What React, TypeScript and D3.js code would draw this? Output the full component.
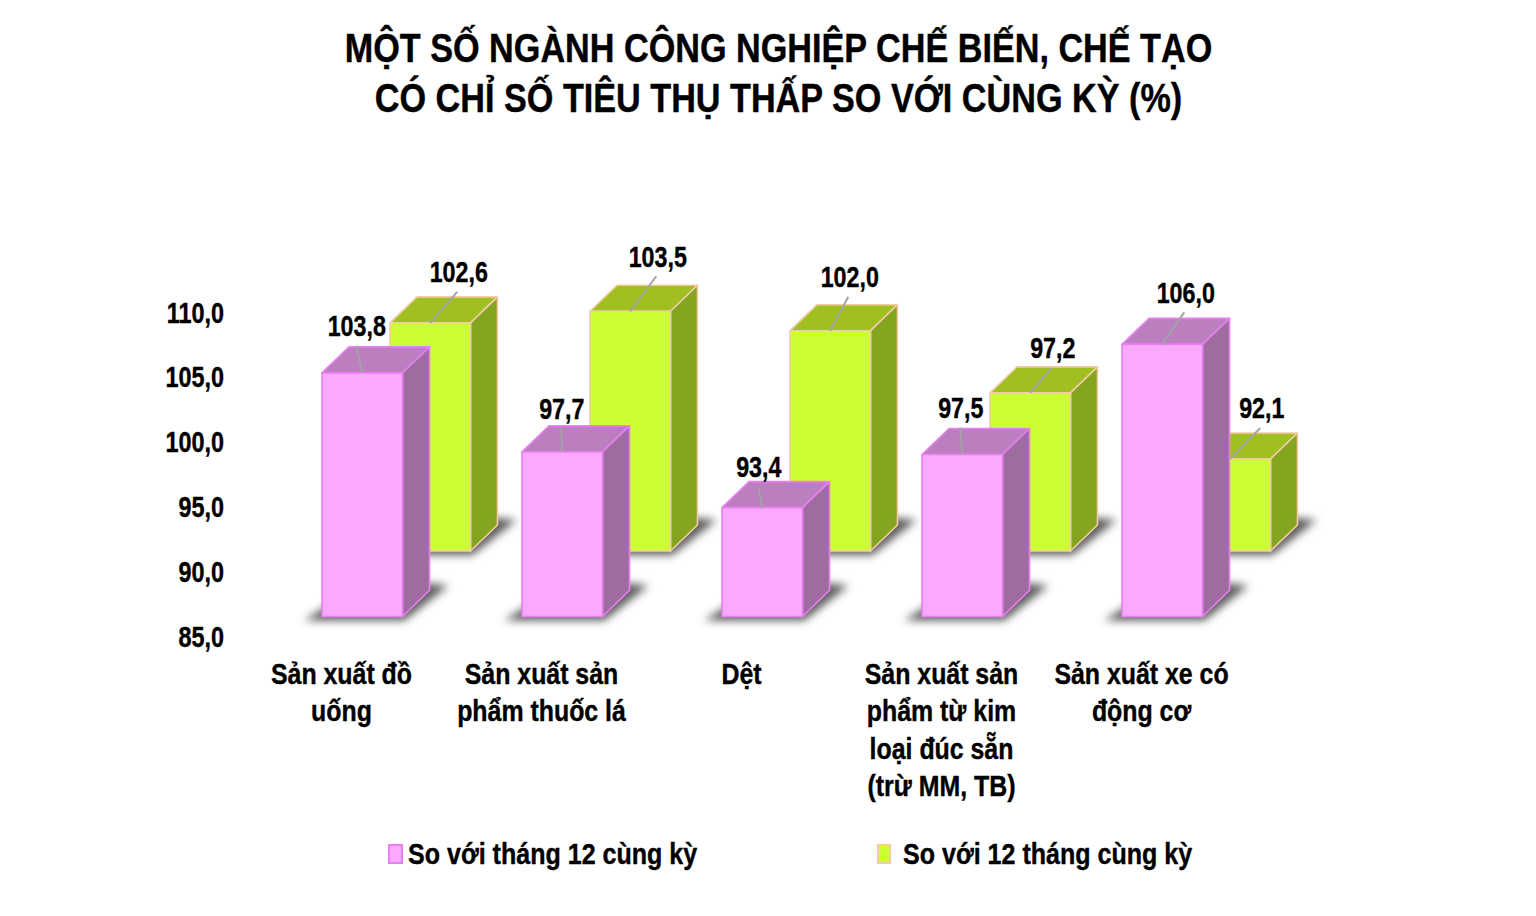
import React from "react";
import * as d3 from "d3";

const categories = [
  ["Sản xuất đồ", "uống"],
  ["Sản xuất sản", "phẩm thuốc lá"],
  ["Dệt"],
  ["Sản xuất sản", "phẩm từ kim", "loại đúc sẵn", "(trừ MM, TB)"],
  ["Sản xuất xe có", "động cơ"],
];
const monthValues = [103.8, 97.7, 93.4, 97.5, 106.0];
const yearValues = [102.6, 103.5, 102.0, 97.2, 92.1];
const yTicks = [85, 90, 95, 100, 105, 110];
const seriesNames = ["So với tháng 12 cùng kỳ", "So với 12 tháng cùng kỳ"];
const titleLines = [
  "MỘT SỐ NGÀNH CÔNG NGHIỆP CHẾ BIẾN, CHẾ TẠO",
  "CÓ CHỈ SỐ TIÊU THỤ THẤP SO VỚI CÙNG KỲ (%)",
];

// label offsets from the top of each bar's front face
const monthLabelOffset = [[-6, -46], [-1, -42], [-4, -40], [-2, -46], [23, -51]];
const yearLabelOffset = [[28, -50], [27, -54], [19, -53], [22, -44], [31, -50]];

const FONT = "'Liberation Sans', Arial, sans-serif";
const BAR_W = 80.5;
const DEPTH_X = 27;
const DEPTH_Y = 26;

const pink = { front: "#fba9ff", top: "#bb7fbf", side: "#9f6c9f", stroke: "#e77ff0" };
const green = { front: "#ccff33", top: "#9fc020", side: "#84a520", stroke: "#f3cba6" };

const y = d3.scaleLinear().domain([85, 110]).range([636, 312]);
const x = d3
  .scaleBand<number>()
  .domain(d3.range(categories.length))
  .range([242, 1242]);
const num = d3.formatLocale({
  decimal: ",",
  thousands: ".",
  grouping: [3],
  currency: ["", ""],
}).format(".1f");

const line = d3.line();
const poly = (pts: [number, number][]) => line(pts) + "Z";

// text is squeezed horizontally to imitate Arial Narrow Bold
const Narrow = ({ x, y, size, sx = 0.85, anchor = "middle", children }: any) => (
  <text
    transform={`translate(${x},${y}) scale(${sx},1)`}
    textAnchor={anchor}
    fontFamily={FONT}
    fontWeight="bold"
    fontSize={size}
    fill="#000"
    stroke="#000"
    strokeWidth={0.4}
  >
    {children}
  </text>
);

const Bar = ({ left, value, lift, c }: any) => {
  const base = y(85) - lift;
  const top = y(value) - lift;
  const r = left + BAR_W;
  return (
    <g>
      <path
        d={poly([
          [left - 18, base + 4],
          [r + 2, base + 4],
          [r + 46, base - 31],
          [r + 5, base - 35],
          [left + 20, base - 20],
        ])}
        fill="#5c5c5c"
        filter="url(#soft)"
      />
      <g stroke={c.stroke} strokeWidth={1.6} strokeLinejoin="round">
        <path
          d={poly([
            [left, top],
            [left + DEPTH_X, top - DEPTH_Y],
            [r + DEPTH_X, top - DEPTH_Y],
            [r, top],
          ])}
          fill={c.top}
        />
        <path
          d={poly([
            [r, top],
            [r + DEPTH_X, top - DEPTH_Y],
            [r + DEPTH_X, base - DEPTH_Y],
            [r, base],
          ])}
          fill={c.side}
        />
        <rect x={left} y={top} width={BAR_W} height={base - top} fill={c.front} />
      </g>
    </g>
  );
};

const Leader = ({ left, value, lift, offset }: any) => {
  const top = y(value) - lift;
  const cx = left + BAR_W / 2;
  const lx = cx + offset[0];
  const ly = top + offset[1];
  return (
    <g>
      <line
        x1={cx}
        y1={top}
        x2={lx + (offset[0] > 10 ? -1 : 0)}
        y2={ly + 19}
        stroke="#a3a3a3"
        strokeWidth={2}
      />
      <Narrow x={lx + 0.5} y={ly + 9.5} size={30} sx={0.775}>
        {num(value)}
      </Narrow>
    </g>
  );
};

export default function App() {
  const monthX = (i: number) => x(i)! + 80;
  const yearX = (i: number) => x(i)! + 148;
  return (
    <svg
      width={1536}
      height={916}
      style={{ position: "absolute", left: 0, top: 0, background: "#fff" }}
    >
      <defs>
        <filter id="soft" x="-30%" y="-60%" width="160%" height="220%">
          <feGaussianBlur stdDeviation={4.5} />
        </filter>
      </defs>

      {titleLines.map((t, i) => (
        <Narrow key={t} x={778.5} y={62 + i * 50} size={40} sx={0.855}>
          {t}
        </Narrow>
      ))}

      {yTicks.map((t) => (
        <Narrow key={t} x={224} y={y(t) + 10.5} size={30} sx={0.78} anchor="end">
          {num(t)}
        </Narrow>
      ))}

      {yearValues.map((v, i) => (
        <Bar key={i} left={yearX(i)} value={v} lift={85} c={green} />
      ))}
      {monthValues.map((v, i) => (
        <Bar key={i} left={monthX(i)} value={v} lift={19.5} c={pink} />
      ))}
      {yearValues.map((v, i) => (
        <Leader key={i} left={yearX(i)} value={v} lift={85} offset={yearLabelOffset[i]} />
      ))}
      {monthValues.map((v, i) => (
        <Leader key={i} left={monthX(i)} value={v} lift={19.5} offset={monthLabelOffset[i]} />
      ))}

      {categories.map((lines, i) =>
        lines.map((l, j) => (
          <Narrow key={l + i} x={x(i)! + x.bandwidth() / 2 - 0.5} y={684 + j * 37.3} size={30} sx={0.83}>
            {l}
          </Narrow>
        ))
      )}

      <rect x={389} y={845} width={13} height={18} fill={pink.front} stroke={pink.stroke} strokeWidth={2} />
      <Narrow x={408} y={864} size={30} sx={0.835} anchor="start">
        {seriesNames[0]}
      </Narrow>
      <rect x={878} y={845} width={12} height={18} fill={green.front} stroke={green.stroke} strokeWidth={2} />
      <Narrow x={903} y={864} size={30} sx={0.835} anchor="start">
        {seriesNames[1]}
      </Narrow>
    </svg>
  );
}
